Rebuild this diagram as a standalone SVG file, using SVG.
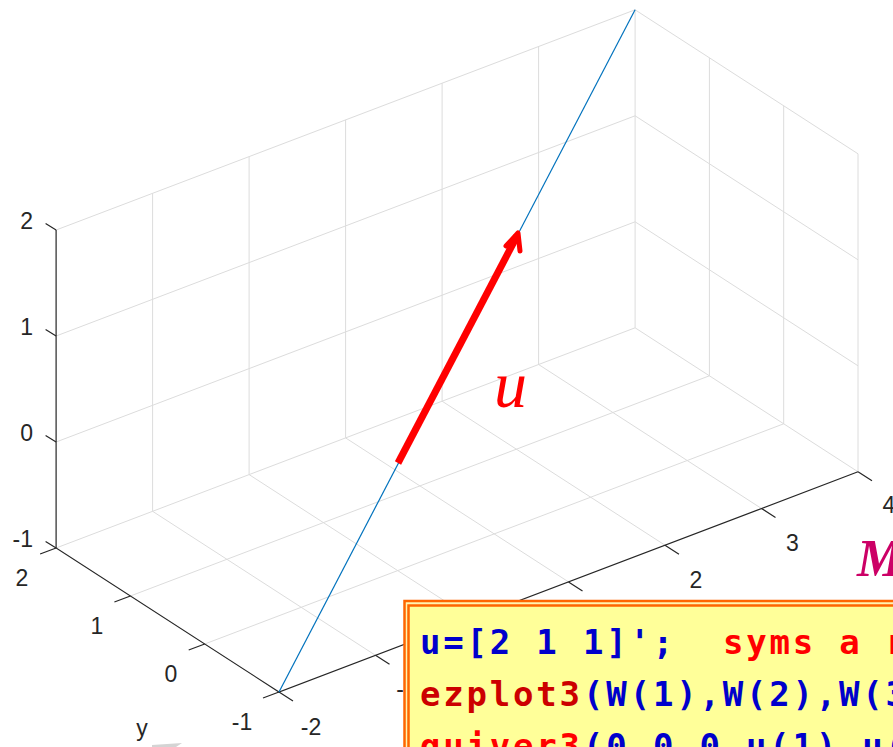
<svg xmlns="http://www.w3.org/2000/svg" width="893" height="747" viewBox="0 0 893 747">
  <style>
    .grid { fill: none; stroke: #dcdcdc; stroke-width: 1; }
    .axis { fill: none; stroke: #262626; stroke-width: 1.2; }
    .tick { font-family: "Liberation Sans", Arial, sans-serif; font-size: 23px; fill: #262626; }
    .code { font-family: "DejaVu Sans Mono", "Liberation Mono", monospace; font-size: 34px; font-weight: bold; letter-spacing: 2.8px; }
    .blue { fill: #0000cc; }
    .red { fill: #ff0000; }
    .dred { fill: #cc0000; }
  </style>
  <rect width="893" height="747" fill="#ffffff"/>

  <g id="grid" class="grid">
    <path d="M375.5,655.3 L152.6,511.3 M472,618.6 L249.1,474.6 M568.5,581.9 L345.6,437.9 M665,545.2 L442.1,401.2 M761.5,508.5 L538.6,364.5 M858,471.8 L635.1,327.8"/>
    <path d="M204.7,644 L783.7,423.8 M130.4,596 L709.4,375.8 M56.1,548 L635.1,327.8"/>
    <path d="M152.6,511.3 L152.6,193.3 M249.1,474.6 L249.1,156.6 M345.6,437.9 L345.6,119.9 M442.1,401.2 L442.1,83.2 M538.6,364.5 L538.6,46.5 M635.1,327.8 L635.1,9.8"/>
    <path d="M56.1,442 L635.1,221.8 M56.1,336 L635.1,115.8 M56.1,230 L635.1,9.8"/>
    <path d="M858,471.8 L858,153.8 M783.7,423.8 L783.7,105.8 M709.4,375.8 L709.4,57.8"/>
    <path d="M858,365.8 L635.1,221.8 M858,259.8 L635.1,115.8 M858,153.8 L635.1,9.8"/>
  </g>

  <g id="axes" class="axis">
    <path d="M56.1,230 L56.1,548 L279,692 L858,471.8"/>
    <path d="M56.1,548 l-10.5,-6.5 M56.1,442 l-10.5,-6.5 M56.1,336 l-10.5,-6.5 M56.1,230 l-10.5,-6.5"/>
    <path d="M56.1,548 l-16,6 M130.4,596 l-16,6 M204.7,644 l-16,6 M279,692 l-16,6"/>
    <path d="M279,692 l14,9 M375.5,655.3 l14,9 M472,618.6 l14,9 M568.5,581.9 l14,9 M665,545.2 l14,9 M761.5,508.5 l14,9 M858,471.8 l14,9"/>
  </g>

  <g id="z-labels" class="tick" text-anchor="end">
    <text x="33" y="229">2</text>
    <text x="33" y="335">1</text>
    <text x="33" y="441">0</text>
    <text x="33" y="547">-1</text>
  </g>
  <g id="y-labels" class="tick" text-anchor="middle">
    <text x="22" y="586">2</text>
    <text x="97" y="634">1</text>
    <text x="171" y="682">0</text>
    <text x="242" y="730">-1</text>
    <text x="142" y="736">y</text>
  </g>
  <g id="x-labels" class="tick" text-anchor="middle">
    <text x="311" y="735">-2</text>
    <text x="406.5" y="697">-1</text>
    <text x="696" y="588">2</text>
    <text x="792.5" y="551">3</text>
    <text x="889" y="513">4</text>
  </g>

  <g id="curve">
    <line x1="279" y1="692" x2="635.1" y2="9.8" stroke="#0072bd" stroke-width="1.2"/>
  </g>

  <g id="vector-u">
    <path d="M398,463 L517,236" stroke="#ff0000" stroke-width="7" fill="none" stroke-linecap="butt"/>
    <path d="M506,246 L518,233 L520,251" stroke="#ff0000" stroke-width="5" fill="none" stroke-linejoin="round" stroke-linecap="round"/>
    <text x="494" y="407" font-family="Liberation Serif, 'Times New Roman', serif" font-style="italic" font-size="66" fill="#ff0000">u</text>
  </g>

  <polygon id="gray-mark" points="152,745 182,743 176,747 152,747" fill="#d4d4d4"/>

  <text id="title-m" x="857" y="576" font-family="Liberation Serif, 'Times New Roman', serif" font-style="italic" font-weight="bold" font-size="52" fill="#cc0066">M</text>

  <g id="code-box">
    <rect x="404.5" y="601" width="520" height="200" fill="#fff4b0" stroke="#ff6600" stroke-width="2.5"/>
    <rect x="408.5" y="605.5" width="520" height="200" fill="#ffff99" stroke="#ff6600" stroke-width="2.5"/>
    <text class="code" y="654"><tspan class="blue" x="420">u=[2 1 1]';</tspan><tspan class="red" x="722.9">syms a r</tspan></text>
    <text class="code" y="706"><tspan class="dred" x="420">ezplot3</tspan><tspan class="blue" x="583.1">(W(1),W(2),W(3</tspan></text>
    <text class="code" y="758"><tspan class="red" x="420">quiver3</tspan><tspan class="blue" x="583.1">(0,0,0,u(1),u(</tspan></text>
  </g>
</svg>
